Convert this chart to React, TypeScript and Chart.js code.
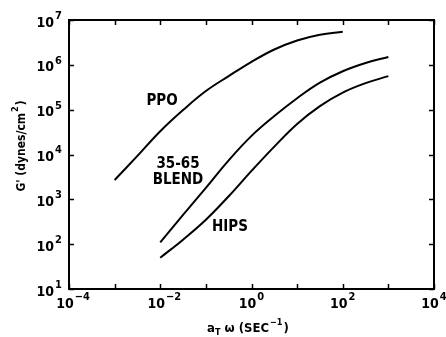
import React, { useEffect, useRef } from "react";
import { Chart, registerables } from "chart.js";

Chart.register(...registerables);

// Storage modulus G' vs reduced frequency for three materials
const ppoFreq = [1e-3, 3.16e-3, 1e-2, 3.16e-2, 0.1, 0.316, 1, 3.16, 10, 31.6, 100];
const ppoModulus = [2.7e3, 9.3e3, 3.3e4, 9.8e4, 2.6e5, 5.6e5, 1.17e6, 2.2e6, 3.5e6, 4.7e6, 5.5e6];

const blendFreq = [1e-2, 3.16e-2, 0.1, 0.316, 1, 3.16, 10, 31.6, 100, 316, 1000];
const blendModulus = [1.1e2, 4.5e2, 1.8e3, 7.4e3, 2.6e4, 7.2e4, 1.8e5, 4.0e5, 7.2e5, 1.1e6, 1.5e6];

const hipsFreq = [1e-2, 3.16e-2, 0.1, 0.316, 1, 3.16, 10, 31.6, 100, 316, 1000];
const hipsModulus = [50, 1.26e2, 3.5e2, 1.17e3, 4.3e3, 1.5e4, 4.8e4, 1.2e5, 2.4e5, 3.9e5, 5.6e5];

const xExponents = [-4, -3, -2, -1, 0, 1, 2, 3, 4];
const xLabelExponents = [-4, -2, 0, 2, 4];
const yExponents = [1, 2, 3, 4, 5, 6, 7];

const curveLabels = [
  { text: "PPO", x: 162, y: 101 },
  { text: "35-65", x: 178, y: 164 },
  { text: "BLEND", x: 178, y: 180 },
  { text: "HIPS", x: 230, y: 227 },
];

const FONT = '"DejaVu Sans Condensed", "DejaVu Sans", sans-serif';

function toPoints(xs: number[], ys: number[]) {
  return xs.map((x, i) => ({ x, y: ys[i] }));
}

// Draws "10" with a raised exponent; anchor is the centre of the "10"
function drawPower(ctx: CanvasRenderingContext2D, cx: number, cy: number, exp: number, align: "center" | "right") {
  ctx.font = `bold 14px ${FONT}`;
  const base = "10";
  const bw = ctx.measureText(base).width;
  ctx.font = `bold 11px ${FONT}`;
  const sup = String(exp).replace("-", "\u2212");
  const sw = ctx.measureText(sup).width;
  let left: number;
  if (align === "center") left = cx - bw / 2;
  else left = cx - bw - sw - 1;
  ctx.textBaseline = "middle";
  ctx.textAlign = "left";
  ctx.font = `bold 14px ${FONT}`;
  ctx.fillText(base, left, cy);
  ctx.font = `bold 11px ${FONT}`;
  ctx.fillText(sup, left + bw + 1, cy - 7);
}

const framePlugin = {
  id: "frame",
  afterDraw(chart: any) {
    const { ctx, chartArea, scales } = chart;
    const { left, right, top, bottom } = chartArea;
    const xs = scales.x;
    const ys = scales.y;
    ctx.save();
    ctx.strokeStyle = "#000";
    ctx.fillStyle = "#000";
    ctx.lineWidth = 2;
    ctx.strokeRect(left, top, right - left, bottom - top);

    ctx.lineWidth = 1.5;
    const tl = 5;
    ctx.beginPath();
    for (const e of xExponents) {
      const px = Math.round(xs.getPixelForValue(Math.pow(10, e))) + 0.5;
      ctx.moveTo(px, bottom);
      ctx.lineTo(px, bottom - tl);
      ctx.moveTo(px, top);
      ctx.lineTo(px, top + tl);
    }
    for (const e of yExponents) {
      const py = Math.round(ys.getPixelForValue(Math.pow(10, e))) + 0.5;
      ctx.moveTo(left, py);
      ctx.lineTo(left + tl, py);
      ctx.moveTo(right, py);
      ctx.lineTo(right - tl, py);
    }
    ctx.stroke();

    for (const e of xLabelExponents) {
      const px = xs.getPixelForValue(Math.pow(10, e));
      drawPower(ctx, px - 4, bottom + 15, e, "center");
    }
    for (const e of yExponents) {
      const py = ys.getPixelForValue(Math.pow(10, e));
      drawPower(ctx, left - 7, py + 3, e, "right");
    }

    ctx.font = `bold 15px ${FONT}`;
    ctx.textAlign = "center";
    ctx.textBaseline = "middle";
    for (const l of curveLabels) ctx.fillText(l.text, l.x, l.y);

    // x-axis title: a_T ω (SEC^-1)
    ctx.textAlign = "left";
    ctx.textBaseline = "alphabetic";
    let x = 207;
    const by = 332;
    ctx.font = `bold 13px ${FONT}`;
    ctx.fillText("a", x, by);
    x += ctx.measureText("a").width;
    ctx.font = `bold 9px ${FONT}`;
    ctx.fillText("T", x, by + 3);
    x += ctx.measureText("T").width + 4;
    ctx.font = `bold 13px ${FONT}`;
    const mid = "\u03c9 (SEC";
    ctx.fillText(mid, x, by);
    x += ctx.measureText(mid).width;
    ctx.font = `bold 9px ${FONT}`;
    ctx.fillText("\u22121", x + 1, by - 7);
    x += ctx.measureText("\u22121").width + 2;
    ctx.font = `bold 13px ${FONT}`;
    ctx.fillText(")", x, by);

    // y-axis title: G' (dynes/cm^2), rotated
    ctx.translate(18, 146);
    ctx.rotate(-Math.PI / 2);
    ctx.font = `bold 12px ${FONT}`;
    const p1 = "G' (dynes/cm";
    const w1 = ctx.measureText(p1).width;
    ctx.font = `bold 9px ${FONT}`;
    const w2 = ctx.measureText("2").width;
    ctx.font = `bold 12px ${FONT}`;
    const w3 = ctx.measureText(")").width;
    let tx = -(w1 + w2 + w3 + 2) / 2;
    ctx.textBaseline = "middle";
    ctx.fillText(p1, tx, 4);
    tx += w1 + 1;
    ctx.font = `bold 9px ${FONT}`;
    ctx.fillText("2", tx, -2);
    tx += w2 + 1;
    ctx.font = `bold 12px ${FONT}`;
    ctx.fillText(")", tx, 4);
    ctx.restore();
  },
};

export default function App() {
  const ref = useRef<HTMLCanvasElement | null>(null);

  useEffect(() => {
    if (!ref.current) return;
    const line = (data: { x: number; y: number }[]) => ({
      data,
      borderColor: "#000",
      borderWidth: 2,
      pointRadius: 0,
      fill: false,
      tension: 0.4,
    });
    const chart = new Chart(ref.current, {
      type: "line",
      data: {
        datasets: [
          line(toPoints(ppoFreq, ppoModulus)),
          line(toPoints(blendFreq, blendModulus)),
          line(toPoints(hipsFreq, hipsModulus)),
        ],
      },
      options: {
        responsive: false,
        animation: false,
        layout: { padding: { left: 69, right: 12, top: 20, bottom: 48 } },
        plugins: { legend: { display: false }, tooltip: { enabled: false } },
        scales: {
          x: { type: "logarithmic", min: 1e-4, max: 1e4, display: false },
          y: { type: "logarithmic", min: 1e1, max: 1e7, display: false },
        },
      },
      plugins: [framePlugin],
    });
    return () => chart.destroy();
  }, []);

  return (
    <div style={{ position: "fixed", left: 0, top: 0, width: 446, height: 337, background: "#fff" }}>
      <canvas ref={ref} width={446} height={337} />
    </div>
  );
}
